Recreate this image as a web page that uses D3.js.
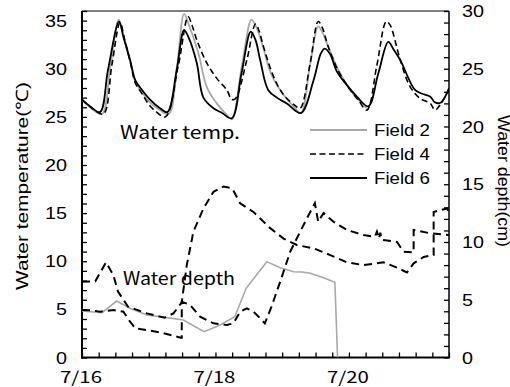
<!DOCTYPE html>
<html><head><meta charset="utf-8">
<script src="https://cdn.jsdelivr.net/npm/d3@7"></script>
<style>html,body{margin:0;padding:0;background:#fff}svg{display:block}</style>
</head><body>
<svg id="c" width="510" height="387"></svg>
<script>
// time in days since 7/16 00:00
const dateTicks = [0, 2, 4];
const dateLabels = ["7/16", "7/18", "7/20"];
const tempTicks = [0, 5, 10, 15, 20, 25, 30, 35];
const depthTicks = [0, 5, 10, 15, 20, 25, 30];
const seriesNames = ["Field 2", "Field 4", "Field 6"];

// Water temperature (°C)
const field2Temp = [[0,26.8],[0.12,26.0],[0.3,25.3],[0.42,30.0],[0.55,35.1],[0.62,33.5],[0.72,31.0],[0.8,28.6],[0.9,27.6],[1.0,26.6],[1.15,25.8],[1.3,25.3],[1.42,30.0],[1.53,35.7],[1.6,34.6],[1.745,31.6],[1.87,28.1],[2.02,26.4],[2.17,25.2],[2.245,24.75],[2.4,30.5],[2.54,35.1],[2.6,34.5],[2.69,32.8],[2.84,29.35],[3.02,27.3],[3.17,26.1],[3.28,25.4],[3.42,30.5],[3.54,34.4],[3.6,33.8],[3.69,32.3],[3.84,29.9],[4.0,28.0],[4.14,26.8],[4.27,25.9]];
const field4Temp = [[0,26.8],[0.15,25.9],[0.32,25.3],[0.45,30.5],[0.57,34.8],[0.64,33.0],[0.73,30.5],[0.8,28.5],[0.9,27.4],[1.0,26.3],[1.1,25.6],[1.25,25.0],[1.445,30.4],[1.59,35.4],[1.65,34.5],[1.72,33.0],[1.87,30.6],[2.02,29.0],[2.17,27.8],[2.245,26.8],[2.3,26.9],[2.47,30.9],[2.6,34.65],[2.65,34.0],[2.72,32.3],[2.87,29.2],[3.02,27.3],[3.19,26.2],[3.27,25.9],[3.42,30.6],[3.54,34.9],[3.6,34.3],[3.69,32.3],[3.84,29.8],[3.99,28.1],[4.14,26.75],[4.27,25.7],[4.42,30.4],[4.56,34.9],[4.62,34.5],[4.67,33.5],[4.77,30.9],[4.92,28.1],[5.07,26.9],[5.22,26.4],[5.29,25.7],[5.38,26.4],[5.5,27.8]];
const field6Temp = [[0,26.8],[0.12,26.1],[0.27,25.5],[0.39,29.9],[0.555,34.9],[0.62,33.3],[0.72,30.9],[0.8,28.8],[0.9,27.8],[1.02,26.8],[1.17,25.9],[1.28,25.5],[1.42,29.9],[1.53,34.0],[1.6,33.2],[1.72,30.6],[1.82,27.0],[1.97,25.9],[2.1,25.4],[2.245,24.85],[2.39,29.5],[2.53,33.85],[2.6,33.0],[2.67,30.9],[2.79,27.8],[2.92,27.0],[3.07,26.4],[3.28,25.4],[3.47,28.8],[3.58,31.6],[3.64,32.1],[3.72,31.5],[3.82,29.7],[3.97,28.3],[4.12,27.1],[4.29,26.1],[4.44,29.5],[4.59,32.8],[4.67,32.0],[4.77,30.9],[4.99,27.8],[5.1,27.4],[5.22,27.1],[5.29,26.5],[5.38,26.5],[5.5,28.0]];

// Water depth (cm)
const field2Depth = [[0,4.03],[0.3,3.88],[0.52,4.89],[0.72,4.26],[0.97,3.68],[1.27,3.45],[1.52,3.25],[1.83,2.24],[2.07,2.81],[2.29,3.53],[2.46,5.99],[2.77,8.3],[2.97,7.78],[3.17,7.43],[3.3,7.4],[3.42,7.29],[3.62,6.91],[3.79,6.51],[3.83,0]];
const field4Depth = [[0,4.11],[0.12,4.1],[0.27,3.97],[0.47,4.11],[0.62,3.97],[0.72,3.1],[0.8,2.53],[0.97,2.38],[1.22,2.1],[1.48,1.72],[1.495,1.72],[1.495,4.83],[1.62,4.55],[1.77,3.53],[1.97,2.96],[2.17,2.81],[2.27,2.96],[2.37,3.97],[2.47,4.26],[2.57,3.97],[2.67,3.39],[2.74,2.96],[2.84,4.4],[2.97,6.56],[3.12,9.16],[3.27,10.9],[3.42,12.6],[3.49,13.35],[3.54,11.75],[3.62,12.5],[3.77,11.75],[3.97,11.04],[4.22,10.6],[4.39,10.46],[4.42,10.9],[4.45,10.3],[4.47,10.8],[4.49,10.2],[4.72,10.0],[4.82,9.16],[4.97,9.1],[4.97,11.04],[5.22,10.75],[5.5,10.6]];
const field6Depth = [[0,6.56],[0.2,6.6],[0.36,8.24],[0.47,7.14],[0.54,5.7],[0.69,4.4],[0.97,3.82],[1.24,3.45],[1.37,3.82],[1.495,4.78],[1.57,8.0],[1.67,10.9],[1.82,12.9],[1.97,14.35],[2.12,14.8],[2.25,14.65],[2.37,13.35],[2.57,12.6],[2.82,11.2],[3.02,10.3],[3.22,9.74],[3.47,9.45],[3.72,8.87],[3.97,8.24],[4.22,8.0],[4.52,8.24],[4.72,7.78],[4.87,7.37],[4.97,8.15],[5.12,8.7],[5.27,8.87],[5.27,12.6],[5.37,12.77],[5.47,12.9],[5.5,12.6]];

const svg = d3.select("#c");
const L = 82, R = 449, T = 11, B = 357.5;
const x = d3.scaleLinear([0, 5.5], [L, R]);
const yT = d3.scaleLinear([0, 36], [B, T]);
const yD = d3.scaleLinear([0, 30], [B, T]);

svg.append("defs").append("clipPath").attr("id","clip")
  .append("rect").attr("x",L).attr("y",T-2).attr("width",R-L).attr("height",B-T+2);

// minor/major ticks (inward)
const tickG = svg.append("g");
tickG.append("g").attr("transform",`translate(${L},0)`)
  .call(d3.axisLeft(yT).tickValues(d3.range(0,37,1)).tickSize(-5).tickSizeOuter(0).tickFormat(""))
  .call(g=>g.select(".domain").remove());
tickG.append("g").attr("transform",`translate(${R},0)`)
  .call(d3.axisRight(yD).tickValues(d3.range(0,31,1)).tickSize(-5).tickSizeOuter(0).tickFormat(""))
  .call(g=>g.select(".domain").remove());
tickG.append("g").attr("transform",`translate(0,${B})`)
  .call(d3.axisBottom(x).tickValues(d3.range(0,5.51,0.25)).tickSize(-5).tickSizeOuter(0).tickFormat(""))
  .call(g=>g.select(".domain").remove());
tickG.selectAll("line").attr("stroke","#000").attr("stroke-width",1.3);

// box
svg.append("line").attr("x1",L).attr("x2",R).attr("y1",T).attr("y2",T).attr("stroke","#000").attr("stroke-width",1);
svg.append("line").attr("x1",R).attr("x2",R).attr("y1",T).attr("y2",B).attr("stroke","#000").attr("stroke-width",1.5);
svg.append("line").attr("x1",L).attr("x2",L).attr("y1",T).attr("y2",B+1).attr("stroke","#000").attr("stroke-width",2);
svg.append("line").attr("x1",L-1).attr("x2",R+1).attr("y1",B).attr("y2",B).attr("stroke","#000").attr("stroke-width",2);

// tick labels
const lab = svg.append("g").attr("font-family","'Liberation Sans', Arial, sans-serif").attr("fill","#000");
lab.selectAll(".lt").data(tempTicks).join("text")
  .attr("x",67).attr("y",d=>yT(d)+6).attr("text-anchor","end").attr("font-size",16.5)
  .attr("textLength",d=>String(d).length*11).attr("lengthAdjust","spacingAndGlyphs").text(d=>d);
lab.selectAll(".rt").data(depthTicks).join("text")
  .attr("x",462).attr("y",d=>yD(d)+6).attr("text-anchor","start").attr("font-size",16.5)
  .attr("textLength",d=>String(d).length*11).attr("lengthAdjust","spacingAndGlyphs").text(d=>d);
svg.append("g").selectAll("text").data(dateTicks).join("text")
  .attr("x",d=>x(d)-22).attr("y",383).attr("font-family","'Noto Sans CJK JP', sans-serif").attr("font-size",16)
  .attr("textLength",42).attr("lengthAdjust","spacingAndGlyphs").text((d,i)=>dateLabels[i]);

// axis titles
svg.append("text").attr("transform","translate(28,186) rotate(-90)").attr("text-anchor","middle")
  .attr("font-family","'Liberation Sans', Arial, sans-serif").attr("font-size",17)
  .attr("textLength",208).attr("lengthAdjust","spacingAndGlyphs").text("Water temperature(℃)");
svg.append("text").attr("transform","translate(497.5,181) rotate(90)").attr("text-anchor","middle")
  .attr("font-family","'Liberation Sans', Arial, sans-serif").attr("font-size",16)
  .attr("textLength",132).attr("lengthAdjust","spacingAndGlyphs").text("Water depth(cm)");

// lines
const plot = svg.append("g").attr("clip-path","url(#clip)");
const lineT = d3.line().x(d=>x(d[0])).y(d=>yT(d[1])).curve(d3.curveCatmullRom.alpha(0.5));
const lineD = d3.line().x(d=>x(d[0])).y(d=>yD(d[1]));
plot.append("path").datum(field2Depth).attr("d",lineD).attr("fill","none").attr("stroke","#a8a8a8").attr("stroke-width",1.6);
plot.append("path").datum(field4Depth).attr("d",lineD).attr("fill","none").attr("stroke","#000").attr("stroke-width",2).attr("stroke-dasharray","8,5");
plot.append("path").datum(field6Depth).attr("d",lineD).attr("fill","none").attr("stroke","#000").attr("stroke-width",2).attr("stroke-dasharray","8,5");
plot.append("path").datum(field2Temp).attr("d",lineT).attr("fill","none").attr("stroke","#a8a8a8").attr("stroke-width",1.8);
plot.append("path").datum(field4Temp).attr("d",lineT).attr("fill","none").attr("stroke","#000").attr("stroke-width",1.6).attr("stroke-dasharray","6,3.5");
plot.append("path").datum(field6Temp).attr("d",lineT).attr("fill","none").attr("stroke","#000").attr("stroke-width",1.8);

// annotations
const ann = svg.append("g").attr("font-family","'Noto Sans CJK JP','Noto Sans', sans-serif").attr("font-size",18).attr("fill","#000");
ann.append("text").attr("x",120).attr("y",139).attr("textLength",120).attr("lengthAdjust","spacingAndGlyphs").text("Water temp.");
ann.append("text").attr("x",123).attr("y",285).attr("textLength",112).attr("lengthAdjust","spacingAndGlyphs").text("Water depth");

// legend
const legY = [130, 154, 178];
const legStyle = [{c:"#a8a8a8",d:null,w:1.8},{c:"#000",d:"6,3.5",w:1.6},{c:"#000",d:null,w:1.8}];
const leg = svg.append("g");
seriesNames.forEach((n,i)=>{
  leg.append("line").attr("x1",310).attr("x2",367).attr("y1",legY[i]).attr("y2",legY[i])
    .attr("stroke",legStyle[i].c).attr("stroke-width",legStyle[i].w).attr("stroke-dasharray",legStyle[i].d);
  leg.append("text").attr("x",374).attr("y",legY[i]+6).attr("font-family","'Liberation Sans', Arial, sans-serif")
    .attr("font-size",17).attr("textLength",56).attr("lengthAdjust","spacingAndGlyphs").text(n);
});
</script>
</body></html>
